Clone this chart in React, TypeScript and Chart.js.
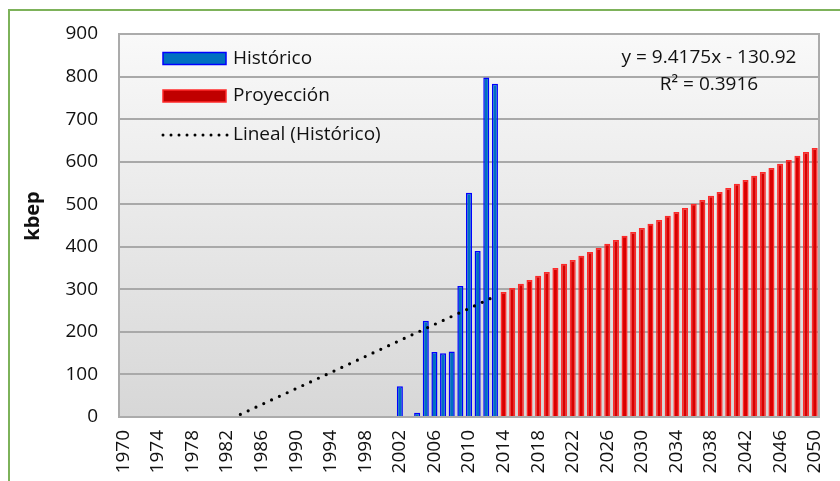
import React, { useEffect, useRef } from "react";
import { Chart, registerables } from "chart.js";

Chart.register(...registerables);

const years: string[] = Array.from({ length: 81 }, (_, i) => String(1970 + i));
const xTickLabels = ["1970","1974","1978","1982","1986","1990","1994","1998","2002","2006","2010","2014","2018","2022","2026","2030","2034","2038","2042","2046","2050"];
const yTicks = [0, 100, 200, 300, 400, 500, 600, 700, 800, 900];

const historicYears = ["2002","2003","2004","2005","2006","2007","2008","2009","2010","2011","2012","2013"];
const historicValues = [72, 0, 10, 226, 153, 150, 154, 308, 527, 390, 798, 783];

const projectionYears = ["2014","2015","2016","2017","2018","2019","2020","2021","2022","2023","2024","2025","2026","2027","2028","2029","2030","2031","2032","2033","2034","2035","2036","2037","2038","2039","2040","2041","2042","2043","2044","2045","2046","2047","2048","2049","2050"];
const projectionValues = [294, 303, 313, 322, 332, 341, 350, 360, 369, 379, 388, 397, 407, 416, 426, 435, 444, 454, 463, 473, 482, 491, 501, 510, 520, 529, 538, 548, 557, 567, 576, 585, 595, 604, 614, 623, 632];

// Linear trend (Lineal (Histórico)) end points
const trendYears = ["1970", "2013"];
const trendValues = [-121.5, 283.4];

const legendLabels = ["Histórico", "Proyección", "Lineal (Histórico)"];
const equationText = "y = 9.4175x - 130.92";
const r2Text = "R² = 0.3916";
const yTitle = "kbep";

const FONT = "'Open Sans', 'Noto Sans', sans-serif";

function toSeries(ys: string[], vs: number[]) {
  return years.map((y) => {
    const i = ys.indexOf(y);
    return i >= 0 ? vs[i] : null;
  });
}

const decorPlugin = {
  id: "decor",
  beforeDraw(chart: any) {
    const { ctx, chartArea: a } = chart;
    ctx.save();
    ctx.fillStyle = "#ffffff";
    ctx.fillRect(0, 0, chart.width, chart.height);
    // green outer border
    ctx.fillStyle = "#7db25a";
    ctx.fillRect(8, 9, 2, chart.height);
    ctx.fillRect(8, 9, chart.width, 2);
    // plot background gradient
    const g = ctx.createLinearGradient(0, a.top, 0, a.bottom);
    g.addColorStop(0, "#f9f9f9");
    g.addColorStop(1, "#d7d7d7");
    ctx.fillStyle = g;
    ctx.fillRect(a.left, a.top, a.right - a.left, a.bottom - a.top);
    ctx.restore();
  },
  afterDraw(chart: any) {
    const { ctx, chartArea: a } = chart;
    ctx.save();
    // plot frame
    ctx.strokeStyle = "#ababab";
    ctx.lineWidth = 2;
    ctx.strokeRect(a.left, a.top, a.right - a.left, a.bottom - a.top);

    // legend
    ctx.font = `19px ${FONT}`;
    ctx.textBaseline = "middle";
    ctx.textAlign = "left";
    const bx = 163, bw = 63, bh = 12;
    const rows = [58.5, 96, 135];
    ctx.lineWidth = 1.5;
    ctx.fillStyle = "#0070c0";
    ctx.fillRect(bx, rows[0] - bh / 2, bw, bh);
    ctx.strokeStyle = "#0000ff";
    ctx.strokeRect(bx, rows[0] - bh / 2, bw, bh);
    ctx.fillStyle = "#c00000";
    ctx.fillRect(bx, rows[1] - bh / 2, bw, bh);
    ctx.strokeStyle = "#ff2a2a";
    ctx.strokeRect(bx, rows[1] - bh / 2, bw, bh);
    ctx.fillStyle = "#000";
    for (let i = 0; i < 9; i++) {
      ctx.beginPath();
      ctx.arc(163 + i * 8, rows[2], 1.5, 0, Math.PI * 2);
      ctx.fill();
    }
    ctx.fillStyle = "#111";
    legendLabels.forEach((t, i) => ctx.fillText(t, 233, rows[i]));

    // equation
    ctx.textAlign = "center";
    ctx.fillText(equationText, 709, 58);
    ctx.fillText(r2Text, 709, 85);

    // y title
    ctx.font = `bold 20px ${FONT}`;
    ctx.translate(33, 216);
    ctx.rotate(-Math.PI / 2);
    ctx.fillText(yTitle, 0, 0);
    ctx.restore();
  },
};

export default function App() {
  const ref = useRef<HTMLCanvasElement>(null);
  useEffect(() => {
    if (!ref.current) return;
    const chart = new Chart(ref.current, {
      type: "bar",
      data: {
        labels: years,
        datasets: [
          {
            type: "line",
            label: legendLabels[2],
            data: toSeries(trendYears, trendValues),
            spanGaps: true,
            borderColor: "#000",
            borderWidth: 3.2,
            borderDash: [0, 8.6],
            borderCapStyle: "round",
            pointRadius: 0,
            fill: false,
            order: 0,
          } as any,
          {
            label: legendLabels[0],
            data: toSeries(historicYears, historicValues),
            backgroundColor: "#0070c0",
            borderColor: "#0000ff",
            borderWidth: 1.5,
            barPercentage: 0.7,
            categoryPercentage: 1,
            grouped: false,
            order: 1,
          } as any,
          {
            label: legendLabels[1],
            data: toSeries(projectionYears, projectionValues),
            backgroundColor: "#d80000",
            borderColor: "#ff2a2a",
            borderWidth: 1.5,
            barPercentage: 0.7,
            categoryPercentage: 1,
            grouped: false,
            order: 1,
          } as any,
        ],
      },
      options: {
        responsive: false,
        animation: false,
        devicePixelRatio: 1,
        layout: { padding: { left: 0, top: 34, right: 21, bottom: 0 } },
        plugins: { legend: { display: false }, tooltip: { enabled: false } },
        scales: {
          x: {
            type: "category",
            offset: true,
            grid: { display: false, drawTicks: false },
            border: { display: false },
            ticks: {
              autoSkip: false,
              maxRotation: 90,
              minRotation: 90,
              padding: 13,
              color: "#111",
              font: { family: FONT, size: 19 },
              callback: function (this: any, v: any) {
                const l = this.getLabelForValue(v);
                return xTickLabels.includes(l) ? l : "";
              },
            },
            afterFit: (s: any) => {
              s.height = 64;
              s.paddingLeft = 0;
              s.paddingRight = 0;
            },
          },
          y: {
            min: 0,
            max: 900,
            afterBuildTicks: (s: any) => {
              s.ticks = yTicks.map((v) => ({ value: v }));
            },
            grid: { color: "#a9a9a9", lineWidth: 2, drawTicks: false },
            border: { display: false },
            ticks: {
              padding: 21,
              color: "#111",
              font: { family: FONT, size: 19 },
            },
            afterFit: (s: any) => {
              s.width = 119;
            },
          },
        },
      } as any,
      plugins: [decorPlugin],
    });
    return () => chart.destroy();
  }, []);
  return (
    <div style={{ position: "absolute", left: 0, top: 0, width: 840, height: 481 }}>
      <canvas ref={ref} width={840} height={481} style={{ width: 840, height: 481, display: "block" }} />
    </div>
  );
}
